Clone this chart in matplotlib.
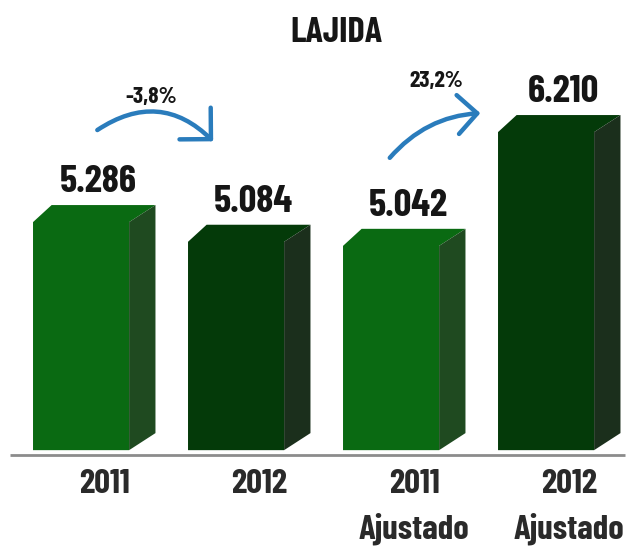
import matplotlib
matplotlib.use("Agg")
import matplotlib.pyplot as plt
from matplotlib import font_manager
from matplotlib.patches import Polygon, FancyArrowPatch
from matplotlib.transforms import blended_transform_factory

title = "LAJIDA"
categories = ["2011", "2012", "2011\nAjustado", "2012\nAjustado"]
values = [5286, 5084, 5042, 6210]
value_labels = ["5.286", "5.084", "5.042", "6.210"]
changes = [(0, 1, "-3,8%"), (2, 3, "23,2%")]

front_colors = ["#0a6a12", "#043a09", "#0a6a12", "#043a09"]
side_colors = ["#1f4a20", "#1b2f1c", "#1f4a20", "#1b2f1c"]

# pick a condensed family that has a bold face
def _w(f):
    w = f.weight
    if isinstance(w, str):
        return {"bold": 700, "heavy": 800, "black": 900, "semibold": 600,
                "demibold": 600}.get(w, 400)
    return w

prefs = ["Barlow Condensed", "Fira Sans Condensed", "Roboto Condensed",
         "Encode Sans Condensed", "Asap Condensed", "Archivo Narrow",
         "Cabin Condensed"]
bold_fams = {f.name for f in font_manager.fontManager.ttflist if _w(f) >= 700}
FONT = [p for p in prefs if p in bold_fams][:1] + ["Roboto", "DejaVu Sans"]
TXT = "#161616"

fig = plt.figure(figsize=(6.29, 5.5), dpi=100)
ax = fig.add_axes([0, 0, 1, 1])
ax.set_xlim(-0.523, 3.535)
ax.set_ylim(1745, 7391)
ax.axis("off")

base = 2770
half_w = 0.31
side_dx = 0.17
chamfer_dx = 0.12
depth = 175

for i, (v, fc, sc) in enumerate(zip(values, front_colors, side_colors)):
    x0, x1 = i - half_w, i + half_w
    front = Polygon([(x0, base), (x1, base), (x1, v - depth), (x1 + side_dx, v),
                     (x0 + chamfer_dx, v), (x0, v - depth)], closed=True,
                    facecolor=fc, edgecolor="none")
    side = Polygon([(x1, base), (x1, v - depth), (x1 + side_dx, v),
                    (x1 + side_dx, base + depth)], closed=True,
                   facecolor=sc, edgecolor="none")
    ax.add_patch(front)
    ax.add_patch(side)
    ax.text(i + 0.11, v + 130, value_labels[i], ha="center", va="baseline",
            fontsize=28, fontweight="bold", family=FONT, color=TXT)

# baseline
ax.plot([-0.46, 3.51], [2720, 2720], color="#8c8c8c", lw=2, solid_capstyle="butt")

trans = blended_transform_factory(ax.transData, ax.transAxes)
for i, c in enumerate(categories):
    parts = c.split("\n")
    ax.text(i + 0.15, 0.12, parts[0], transform=trans, ha="center", va="center",
            fontsize=25, fontweight="bold", family=FONT, color="#2a2a2a")
    if len(parts) > 1:
        ax.text(i + 0.15, 0.038, parts[1], transform=trans, ha="center", va="center",
                fontsize=25, fontweight="bold", family=FONT, color="#2a2a2a")

ax.text(0.535, 0.94, title, transform=ax.transAxes, ha="center", va="center",
        fontsize=26, fontweight="bold", family=FONT, color=TXT)

# change arrows
arrow_specs = {
    0: dict(start=(0.09, 6040), end=(0.865, 5920), rad=-0.42, label_xy=(0.45, 6395),
            head="->,head_length=0.8,head_width=0.8"),
    2: dict(start=(1.98, 5749), end=(2.594, 6231), rad=-0.22, label_xy=(2.29, 6560),
            head="->,head_length=0.7,head_width=0.7"),
}
for a, b, lab in changes:
    s = arrow_specs[a]
    arr = FancyArrowPatch(s["start"], s["end"], connectionstyle=f"arc3,rad={s['rad']}",
                          arrowstyle=s["head"],
                          mutation_scale=20, color="#2a7cbc", lw=3.2,
                          capstyle="round", joinstyle="round")
    ax.add_patch(arr)
    ax.text(*s["label_xy"], lab, ha="center", va="center", fontsize=17,
            fontweight="bold", family=FONT, color=TXT)

fig.savefig("out.png", dpi=100)
